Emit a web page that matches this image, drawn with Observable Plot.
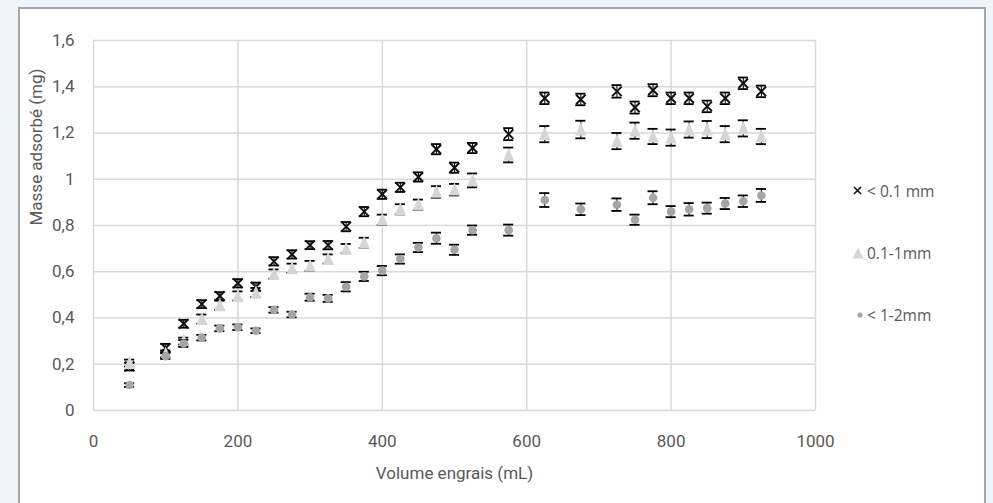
<!DOCTYPE html>
<html>
<head>
<meta charset="utf-8">
<script src="https://cdn.jsdelivr.net/npm/d3@7"></script>
<script src="https://cdn.jsdelivr.net/npm/@observablehq/plot@0.6"></script>
<style>
  html, body { margin: 0; padding: 0; }
  body { width: 993px; height: 503px; overflow: hidden; position: relative; background: #eef5f8; font-family: Roboto, sans-serif; }
  #box { position: absolute; left: 18px; top: 7px; width: 968px; height: 520px; background: #fff; border: 2px solid #a6a6a6; box-sizing: border-box; }
  #chart { position: absolute; left: 0; top: 0; }
  #legend { position: absolute; left: 852px; top: 0; font-family: "Open Sans", sans-serif; font-size: 15.5px; color: #595959; }
  .item { position: absolute; left: 0; white-space: nowrap; display: flex; align-items: center; height: 20px; }
  .item svg { margin-right: 3px; }
</style>
</head>
<body>
<div id="box"></div>
<div id="chart"></div>
<div id="legend"></div>
<script>
// ---- data ----
const volumes = [50,100,125,150,175,200,225,250,275,300,325,350,375,400,425,450,475,500,525,575,625,675,725,750,775,800,825,850,875,900,925];
const seriesNames = ["< 0.1 mm", "0.1-1mm", "< 1-2mm"];
const fine   = [0.19,0.27,0.375,0.46,0.495,0.55,0.535,0.645,0.675,0.715,0.715,0.795,0.86,0.935,0.965,1.01,1.13,1.05,1.135,1.195,1.35,1.345,1.38,1.31,1.385,1.35,1.35,1.315,1.35,1.415,1.38];
const fineErr = [0.017,0.018,0.017,0.017,0.017,0.018,0.018,0.018,0.018,0.017,0.018,0.02,0.02,0.02,0.02,0.02,0.022,0.022,0.022,0.026,0.025,0.025,0.027,0.026,0.026,0.025,0.025,0.025,0.025,0.025,0.025];
const medium = [0.205,0.245,0.30,0.395,0.455,0.495,0.51,0.59,0.615,0.625,0.655,0.70,0.725,0.825,0.87,0.89,0.945,0.955,0.995,1.105,1.195,1.215,1.165,1.21,1.185,1.18,1.215,1.215,1.195,1.22,1.185];
const mediumErr = [0.015,0.015,0.015,0.02,0.02,0.02,0.02,0.02,0.02,0.022,0.02,0.02,0.022,0.022,0.022,0.022,0.025,0.025,0.03,0.032,0.035,0.038,0.035,0.035,0.033,0.035,0.035,0.037,0.035,0.035,0.033];
const coarse = [0.11,0.235,0.29,0.315,0.355,0.36,0.345,0.435,0.415,0.49,0.485,0.535,0.58,0.605,0.655,0.705,0.745,0.695,0.78,0.78,0.91,0.87,0.89,0.825,0.92,0.86,0.87,0.875,0.895,0.905,0.93];
const coarseErr = [0.008,0.012,0.015,0.012,0.012,0.012,0.01,0.012,0.012,0.015,0.015,0.02,0.02,0.02,0.02,0.02,0.024,0.022,0.02,0.024,0.03,0.025,0.027,0.022,0.028,0.024,0.027,0.024,0.024,0.025,0.028];
const xTicks = [0,200,400,600,800,1000];
const yTicks = [0,0.2,0.4,0.6,0.8,1,1.2,1.4,1.6];
const xTitle = "Volume engrais (mL)";
const yTitle = "Masse adsorbé (mg)";

// ---- build tables ----
const toRows = (vals, errs) => volumes.map((v, i) => ({x: v, y: vals[i], e: errs[i]}));
const fineRows = toRows(fine, fineErr);
const mediumRows = toRows(medium, mediumErr);
const coarseRows = toRows(coarse, coarseErr);

// tall triangle symbol
const tallTriangle = {
  draw(ctx, size) {
    const r = Math.sqrt(size / Math.PI);
    ctx.moveTo(0, -1.3 * r);
    ctx.lineTo(r, 1.05 * r);
    ctx.lineTo(-r, 1.05 * r);
    ctx.closePath();
  }
};

const capHalf = 7; // mL each side (cap width)
const errMarks = (rows, w) => [
  Plot.ruleX(rows, {x: "x", y1: d => d.y - d.e, y2: d => d.y + d.e, stroke: "#000", strokeWidth: w}),
  Plot.ruleY(rows, {y: d => d.y + d.e, x1: d => d.x - capHalf, x2: d => d.x + capHalf, stroke: "#000", strokeWidth: 1.8}),
  Plot.ruleY(rows, {y: d => d.y - d.e, x1: d => d.x - capHalf, x2: d => d.x + capHalf, stroke: "#000", strokeWidth: 1.8})
];

const chart = Plot.plot({
  width: 993,
  height: 503,
  marginLeft: 93,
  marginRight: 178,
  marginTop: 40,
  marginBottom: 93,
  style: {background: "transparent", fontFamily: "Roboto, sans-serif", fontSize: "17px", color: "#595959"},
  x: {domain: [0, 1000], ticks: xTicks, tickSize: 0, tickPadding: 24, label: null, tickFormat: d => String(d)},
  y: {domain: [0, 1.6], ticks: yTicks, tickSize: 0, tickPadding: 19, label: null, tickFormat: d => String(d).replace(".", ",")},
  marks: [
    Plot.ruleX(xTicks, {stroke: "#d9d9d9", strokeWidth: 1.5}),
    Plot.ruleY(yTicks, {stroke: "#d9d9d9", strokeWidth: 1.5}),
    ...errMarks(fineRows, 1),
    Plot.dot(fineRows, {x: "x", y: "y", symbol: "times", r: 4.4, stroke: "#111", strokeWidth: 2}),
    ...errMarks(mediumRows, 1),
    Plot.dot(mediumRows, {x: "x", y: "y", symbol: tallTriangle, r: 5.6, fill: "#d6d6d6", stroke: "none"}),
    ...errMarks(coarseRows, 1),
    Plot.dot(coarseRows, {x: "x", y: "y", symbol: "circle", r: 4.3, fill: "#a5a5a5", stroke: "none"}),
    Plot.text([yTitle], {text: d => d, frameAnchor: "left", dx: -57, rotate: -90, fill: "#595959", fontSize: 17}),
    Plot.text([xTitle], {text: d => d, frameAnchor: "bottom", dy: 68, fill: "#595959", fontSize: 17})
  ]
});
document.getElementById("chart").appendChild(chart);

// ---- legend ----
const legend = document.getElementById("legend");
const legendSymbols = [
  '<svg width="12" height="12"><path d="M2,2L9,9M2,9L9,2" stroke="#111" stroke-width="1.6"/></svg>',
  '<svg width="12" height="12"><path d="M6,0.5L11.5,11.5L0.5,11.5Z" fill="#d6d6d6"/></svg>',
  '<svg width="12" height="12"><circle cx="8" cy="6" r="2.6" fill="#a5a5a5"/></svg>'
];
const legendTops = [181, 243, 305];
seriesNames.forEach((name, i) => {
  const div = document.createElement("div");
  div.className = "item";
  div.style.top = legendTops[i] + "px";
  div.innerHTML = legendSymbols[i] + "<span>" + name + "</span>";
  legend.appendChild(div);
});
</script>
</body>
</html>
